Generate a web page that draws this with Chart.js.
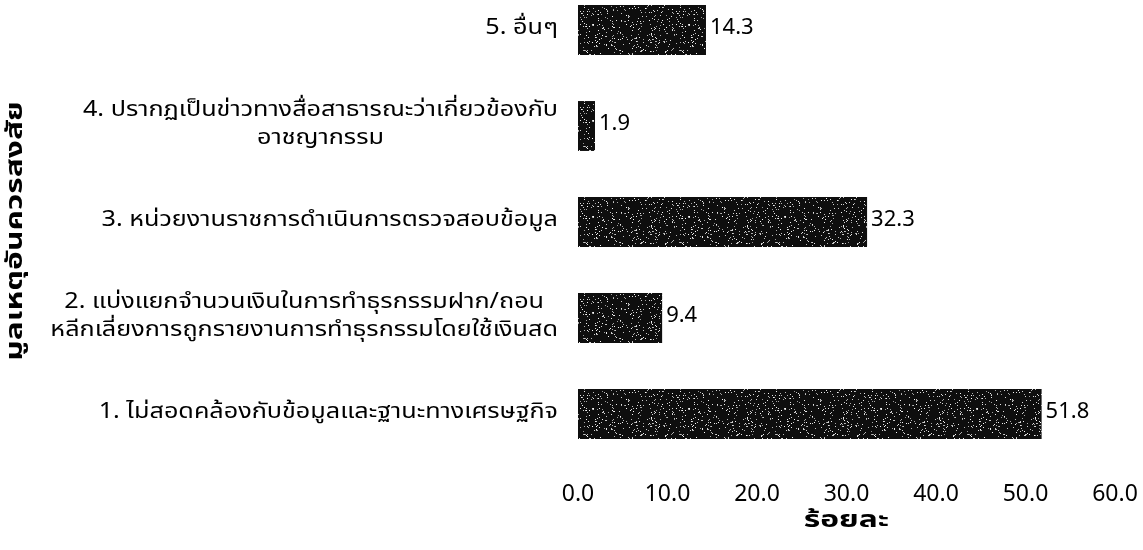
<!DOCTYPE html>
<html>
<head>
<meta charset="utf-8">
<script src="https://cdn.jsdelivr.net/npm/chart.js@4.4.1/dist/chart.umd.min.js"></script>
<style>
  html, body { margin: 0; padding: 0; background: #ffffff; }
  #wrap { width: 1143px; height: 550px; }
</style>
</head>
<body>
<div id="wrap"><canvas id="c" width="1143" height="550"></canvas></div>
<script>
// Reasons for suspicion (each entry is one label, split into lines)
const categories = [
  ['1. ไม่สอดคล้องกับข้อมูลและฐานะทางเศรษฐกิจ'],
  ['2. แบ่งแยกจำนวนเงินในการทำธุรกรรมฝาก/ถอน', 'หลีกเลี่ยงการถูกรายงานการทำธุรกรรมโดยใช้เงินสด'],
  ['3. หน่วยงานราชการดำเนินการตรวจสอบข้อมูล'],
  ['4. ปรากฏเป็นข่าวทางสื่อสาธารณะว่าเกี่ยวข้องกับ', 'อาชญากรรม'],
  ['5. อื่นๆ']
];
// Percent of cases
const percentValues = [51.8, 9.4, 32.3, 1.9, 14.3];
// Value axis ticks
const xTickValues = [0, 10, 20, 30, 40, 50, 60];

const xTitle = 'ร้อยละ';
const yTitle = 'มูลเหตุอันควรสงสัย';

const FONT = "Tahoma, 'Noto Sans Thai', 'Noto Sans', 'DejaVu Sans', sans-serif";
const THAI_STRETCH = 1.2;   // Thai glyphs drawn a little wider
const TITLE_STRETCH = 1.38;

// Dark speckled fill for the bars (fixed-seed pattern)
function speckleFill() {
  const p = document.createElement('canvas');
  p.width = 96; p.height = 96;
  const g = p.getContext('2d');
  g.fillStyle = '#0e0e0e';
  g.fillRect(0, 0, 96, 96);
  let s = 12345;
  const next = () => { s = (s * 1103515245 + 12345) & 0x7fffffff; return s / 0x7fffffff; };
  for (let i = 0; i < 700; i++) {
    const x = Math.floor(next() * 96), y = Math.floor(next() * 96);
    const v = 150 + Math.floor(next() * 105);
    g.fillStyle = `rgb(${v},${v},${v})`;
    g.fillRect(x, y, 1, 1);
  }
  return g.createPattern(p, 'repeat');
}

function stretchedText(ctx, text, x, y, sx, rot) {
  ctx.save();
  ctx.translate(x, y);
  if (rot) ctx.rotate(rot);
  ctx.scale(sx, 1);
  ctx.textAlign = 'center';
  ctx.textBaseline = 'middle';
  ctx.fillText(text, 0, 0);
  ctx.restore();
}

// Category names beside the bars and both axis titles
const axisText = {
  id: 'axisText',
  afterDraw(chart) {
    const { ctx, scales: { y }, chartArea } = chart;
    ctx.save();
    ctx.fillStyle = '#000';
    ctx.font = `21px ${FONT}`;
    const rightEdge = chartArea.left - 20;
    const lh = 28;
    categories.forEach((lines, i) => {
      const yc = y.getPixelForValue(i);
      const w = Math.max(...lines.map(t => ctx.measureText(t).width)) * THAI_STRETCH;
      const cx = rightEdge - w / 2;
      lines.forEach((t, j) => {
        stretchedText(ctx, t, cx, yc + (j - (lines.length - 1) / 2) * lh, THAI_STRETCH);
      });
    });
    ctx.font = `bold 23px ${FONT}`;
    stretchedText(ctx, xTitle, (chartArea.left + chartArea.right) / 2, 522, TITLE_STRETCH);
    stretchedText(ctx, yTitle, 17, 231, TITLE_STRETCH, -Math.PI / 2);
    ctx.restore();
  }
};

const valueLabels = {
  id: 'valueLabels',
  afterDatasetsDraw(chart) {
    const { ctx } = chart;
    const meta = chart.getDatasetMeta(0);
    ctx.save();
    ctx.font = `22px ${FONT}`;
    ctx.fillStyle = '#000';
    ctx.textAlign = 'left';
    ctx.textBaseline = 'middle';
    meta.data.forEach((bar, i) => {
      ctx.fillText(percentValues[i].toFixed(1), bar.x + 4, bar.y);
    });
    ctx.restore();
  }
};

new Chart(document.getElementById('c'), {
  type: 'bar',
  data: {
    labels: categories,
    datasets: [{
      data: percentValues,
      backgroundColor: speckleFill(),
      borderWidth: 0,
      barPercentage: 0.52,
      categoryPercentage: 1,
      clip: false
    }]
  },
  options: {
    indexAxis: 'y',
    responsive: false,
    animation: false,
    devicePixelRatio: 1,
    layout: { padding: { top: 30, right: 28, left: 0, bottom: 0 } },
    plugins: { legend: { display: false }, tooltip: { enabled: false } },
    scales: {
      x: {
        min: 0, max: 60,
        afterBuildTicks: s => { s.ticks = xTickValues.map(v => ({ value: v })); },
        afterFit: s => { s.height = 136; s.paddingLeft = 0; s.paddingRight = 0; },
        grid: { display: false, drawTicks: false },
        border: { display: false },
        ticks: {
          padding: 69,
          color: '#000',
          font: { family: FONT, size: 23 },
          maxRotation: 0,
          callback: v => Number(v).toFixed(1)
        },
        title: { display: false }
      },
      y: {
        reverse: true,
        offset: false,
        afterFit: s => { s.width = 578; },
        grid: { display: false },
        border: { display: false },
        ticks: { display: false },
        title: { display: false }
      }
    }
  },
  plugins: [axisText, valueLabels]
});
</script>
</body>
</html>
